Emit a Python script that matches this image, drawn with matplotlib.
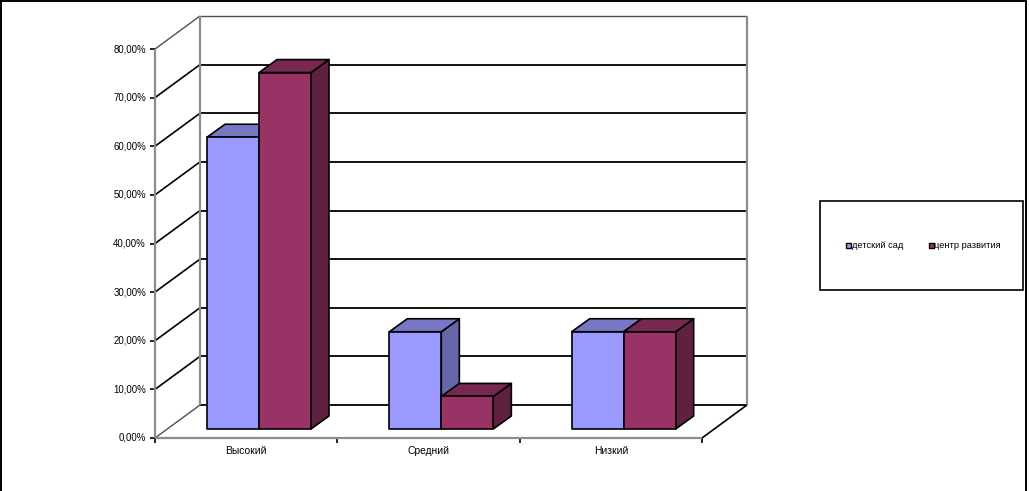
import matplotlib
matplotlib.use("Agg")
import matplotlib.pyplot as plt
from matplotlib.patches import Polygon, Rectangle

plt.rcParams["font.family"] = ["Liberation Sans", "DejaVu Sans"]

categories = ["Высокий", "Средний", "Низкий"]
series_names = ["детский сад", "центр развития"]
kindergarten = [60.0, 20.0, 20.0]
dev_center = [73.3, 6.7, 20.0]
yticks = [0, 10, 20, 30, 40, 50, 60, 70, 80]

W, H = 1029, 491
# axis placement in pixels
x0_px, cat_px = 155, 182.33
y0_px, pct_px = 438, 4.8625

# depth of the box and of the bars, converted to data units
box_dx, box_dy = 45 / cat_px, 33 / pct_px
bar_dx, bar_dy = 18 / cat_px, 13 / pct_px
bar_w = 52 / cat_px
bar_left = 52 / cat_px
bar_base = 9 / pct_px

fig = plt.figure(figsize=(W / 100, H / 100), dpi=100)
ax = fig.add_axes([0, 0, 1, 1])
ax.set_xlim(-x0_px / cat_px, (W - x0_px) / cat_px)
ax.set_ylim((y0_px - H) / pct_px, y0_px / pct_px)
ax.axis("off")

GREY = "#8c8c8c"
ymax = yticks[-1]
ncat = len(categories)


def line(xs, ys, color="black", lw=1.3, z=1):
    ax.plot(xs, ys, color=color, lw=lw, zorder=z, solid_capstyle="butt")


# walls and gridlines
for v in yticks:
    edge = v in (0, ymax)
    line([0, box_dx], [v, v + box_dy], color="#505050" if edge else "black", lw=1.0 if edge else 1.2)
    line([box_dx, ncat + box_dx], [v + box_dy, v + box_dy],
         color="#505050" if v == ymax else "black", lw=1.0 if v == ymax else 1.3)
    line([-5 / cat_px, 0], [v, v], lw=1.2)
line([0, 0], [0, ymax], color=GREY, lw=1.6)
line([box_dx, box_dx], [box_dy, ymax + box_dy], color=GREY, lw=1.6)
line([ncat + box_dx, ncat + box_dx], [box_dy, ymax + box_dy], color=GREY, lw=1.6)
line([0, ncat], [0, 0], color=GREY, lw=1.6, z=2)
line([ncat, ncat + box_dx], [0, box_dy], lw=1.2)
for i in range(ncat + 1):
    line([i, i], [0, -5 / pct_px], lw=1.2)

for v in yticks:
    ax.text(-9 / cat_px, v, f"{v:.2f}%".replace(".", ","), ha="right", va="center",
            fontsize=6.9, color="black")
for i, name in enumerate(categories):
    ax.text(i + 0.5, -13 / pct_px, name, ha="center", va="center", fontsize=7.4,
            color="black")

series = [
    (kindergarten, "#9999FF", "#7777C6", "#6666A8"),
    (dev_center, "#993366", "#772850", "#602140"),
]


def bar3d(x, val, front, top, side):
    y = bar_base
    y1 = y + val
    edge = dict(edgecolor="black", lw=1.2, zorder=3, joinstyle="round")
    ax.add_patch(Polygon([(x + bar_w, y), (x + bar_w + bar_dx, y + bar_dy),
                          (x + bar_w + bar_dx, y1 + bar_dy), (x + bar_w, y1)],
                         facecolor=side, **edge))
    ax.add_patch(Polygon([(x, y1), (x + bar_w, y1), (x + bar_w + bar_dx, y1 + bar_dy),
                          (x + bar_dx, y1 + bar_dy)], facecolor=top, **edge))
    ax.add_patch(Rectangle((x, y), bar_w, y1 - y, facecolor=front, **edge))


for i in range(ncat):
    for j, (vals, front, top, side) in enumerate(series):
        bar3d(i + bar_left + j * bar_w, vals[i], front, top, side)

# legend, placed in figure pixels
tr = fig.transFigure


def fx(px):
    return px / W


def fy(py):
    return 1 - py / H


fig.patches.append(Rectangle((fx(819.5), fy(290)), 203 / W, 89 / H, transform=tr,
                             facecolor="white", edgecolor="black", lw=1.2))
for name, (_, front, _, _), mx in zip(series_names, series, (845.5, 928.5)):
    fig.patches.append(Rectangle((fx(mx), fy(248)), 5.5 / W, 5.5 / H, transform=tr,
                                 facecolor=front, edgecolor="black", lw=1))
    fig.text(fx(mx + 6), fy(245), name, ha="left", va="center", fontsize=6.7, color="black")

# outer frame of the picture
for xs, ys in [((1, 1), (0, H)), ((0, 1026), (0.5, 0.5)), ((1026, 1026), (0, H))]:
    fig.add_artist(plt.Line2D([fx(a) for a in xs], [fy(b) for b in ys], color="black", lw=1.4))

fig.savefig("out.png", dpi=100, facecolor="white")
